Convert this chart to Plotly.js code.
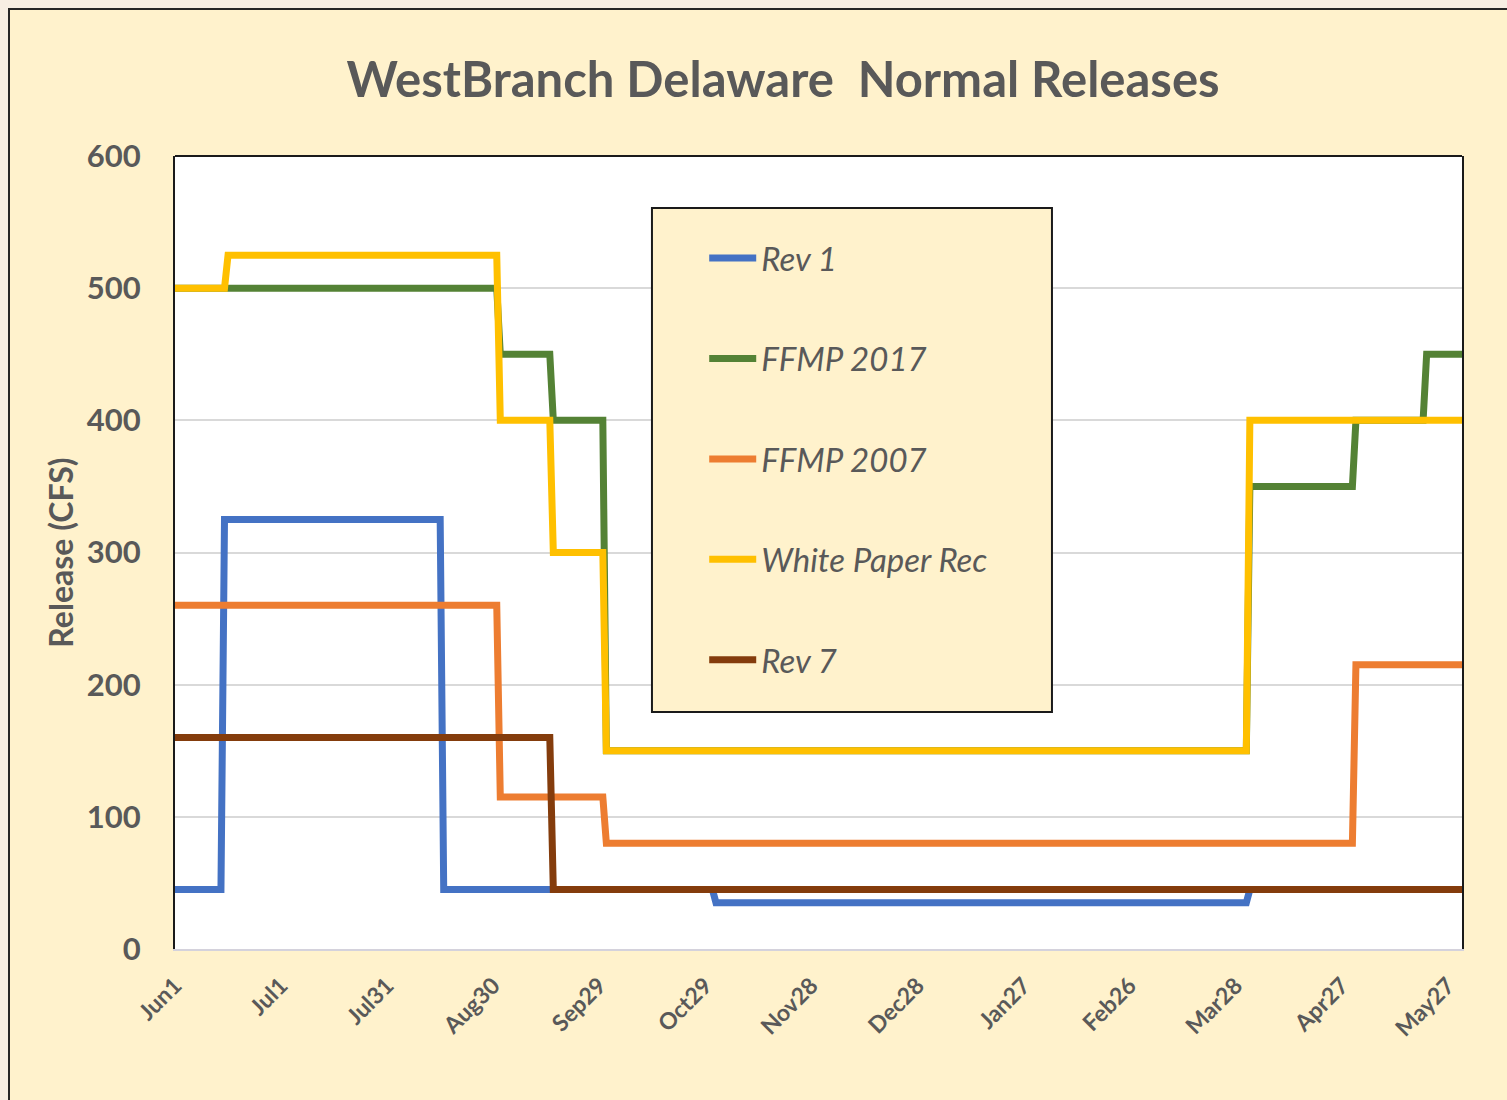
<!DOCTYPE html>
<html>
<head>
<meta charset="utf-8">
<script src="https://cdn.plot.ly/plotly-3.0.1.min.js"></script>
<style>
  html, body { margin: 0; padding: 0; background: #F7EEE3; width: 1507px; height: 1100px; overflow: hidden; }
  #wrap { position: absolute; left: 8px; top: 8px; width: 1499px; height: 1092px; border-top: 2px solid #262626; border-left: 2px solid #262626; background: #FFF2CC; }
  #chart { width: 1497px; height: 1090px; }
</style>
</head>
<body>
<div id="wrap"><div id="chart"></div></div>
<script>
// X axis: day index since Jun 1 (365 daily points, labels every 30 days)
const tickDays = [0, 30, 60, 90, 120, 150, 180, 210, 240, 270, 300, 330, 360];
const tickLabels = ['Jun1', 'Jul1', 'Jul31', 'Aug30', 'Sep29', 'Oct29', 'Nov28', 'Dec28', 'Jan27', 'Feb26', 'Mar28', 'Apr27', 'May27'];

const seriesNames = ['Rev 1', 'FFMP 2017', 'FFMP 2007', 'White Paper Rec', 'Rev 7'];

const rev1Days = [0, 13, 14, 75, 76, 152, 153, 303, 304, 364];
const rev1Vals = [45, 45, 325, 325, 45, 45, 35, 35, 45, 45];

const ffmp2017Days = [0, 91, 92, 106, 107, 121, 122, 303, 304, 333, 334, 353, 354, 364];
const ffmp2017Vals = [500, 500, 450, 450, 400, 400, 150, 150, 350, 350, 400, 400, 450, 450];

const ffmp2007Days = [0, 91, 92, 121, 122, 333, 334, 364];
const ffmp2007Vals = [260, 260, 115, 115, 80, 80, 215, 215];

const whitePaperDays = [0, 14, 15, 91, 92, 106, 107, 121, 122, 303, 304, 364];
const whitePaperVals = [500, 500, 525, 525, 400, 400, 300, 300, 150, 150, 400, 400];

const rev7Days = [0, 106, 107, 364];
const rev7Vals = [160, 160, 45, 45];

const colors = ['#4472C4', '#548235', '#ED7D31', '#FFC000', '#843C0C'];
const xs = [rev1Days, ffmp2017Days, ffmp2007Days, whitePaperDays, rev7Days];
const ys = [rev1Vals, ffmp2017Vals, ffmp2007Vals, whitePaperVals, rev7Vals];

const FONT = 'Lato, "Open Sans", sans-serif';
const GREY = '#595959';

const traces = seriesNames.map((n, i) => ({
  type: 'scatter', mode: 'lines', name: n,
  x: xs[i], y: ys[i],
  legendgroup: 'g' + i,
  line: { color: colors[i], width: 7 },
  hoverinfo: 'skip'
}));

const layout = {
  width: 1497, height: 1090,
  paper_bgcolor: '#FFF2CC', plot_bgcolor: '#FFFFFF',
  margin: { l: 165, r: 45, t: 146, b: 151 },
  showlegend: true,
  title: {
    text: 'WestBranch Delaware  Normal Releases',
    font: { family: FONT, size: 49, color: GREY, weight: 'bold' },
    x: 0.5164, xanchor: 'center', xref: 'container',
    y: 0.9358, yanchor: 'middle', yref: 'container'
  },
  xaxis: {
    range: [0, 364],
    tickmode: 'array', tickvals: tickDays, ticktext: tickLabels,
    tickangle: -45,
    tickfont: { family: FONT, size: 23, color: GREY, weight: 'bold' },
    ticks: 'outside', ticklen: 12, tickcolor: 'rgba(0,0,0,0)',
    showgrid: false, zeroline: false,
    showline: true, linecolor: '#D4D2DC', linewidth: 2,
    fixedrange: true
  },
  yaxis: {
    range: [0, 600],
    tickvals: [0, 100, 200, 300, 400, 500, 600],
    tickfont: { family: FONT, size: 31, color: GREY, weight: 'bold' },
    ticks: 'outside', ticklen: 26, tickcolor: 'rgba(0,0,0,0)',
    showgrid: true, gridcolor: '#D9D9D9', gridwidth: 2,
    zeroline: false,
    showline: true, linecolor: '#1a1a1a', linewidth: 2, mirror: true,
    title: { text: 'Release (CFS)', font: { family: FONT, size: 32, color: GREY, weight: 'bold' }, standoff: 4 },
    fixedrange: true
  },
  shapes: [
    { type: 'line', xref: 'paper', yref: 'paper', x0: 0, x1: 1, y0: 1, y1: 1, line: { color: '#1a1a1a', width: 2 } },
    { type: 'rect', xref: 'paper', yref: 'paper', x0: 0.3706, x1: 0.6814, y0: 0.2989, y1: 0.9344,
      layer: 'above', fillcolor: '#FFF2CC', line: { color: '#1a1a1a', width: 2 } }
  ],
  legend: {
    x: 0.4112, y: 0.9065, xanchor: 'left', yanchor: 'top',
    bgcolor: 'rgba(0,0,0,0)', borderwidth: 0,
    font: { family: FONT, size: 33, color: GREY, style: 'italic' },
    traceorder: 'grouped', tracegroupgap: 54.5,
    itemwidth: 47
  }
};

Plotly.newPlot('chart', traces, layout, { displayModeBar: false, staticPlot: true });
</script>
</body>
</html>
